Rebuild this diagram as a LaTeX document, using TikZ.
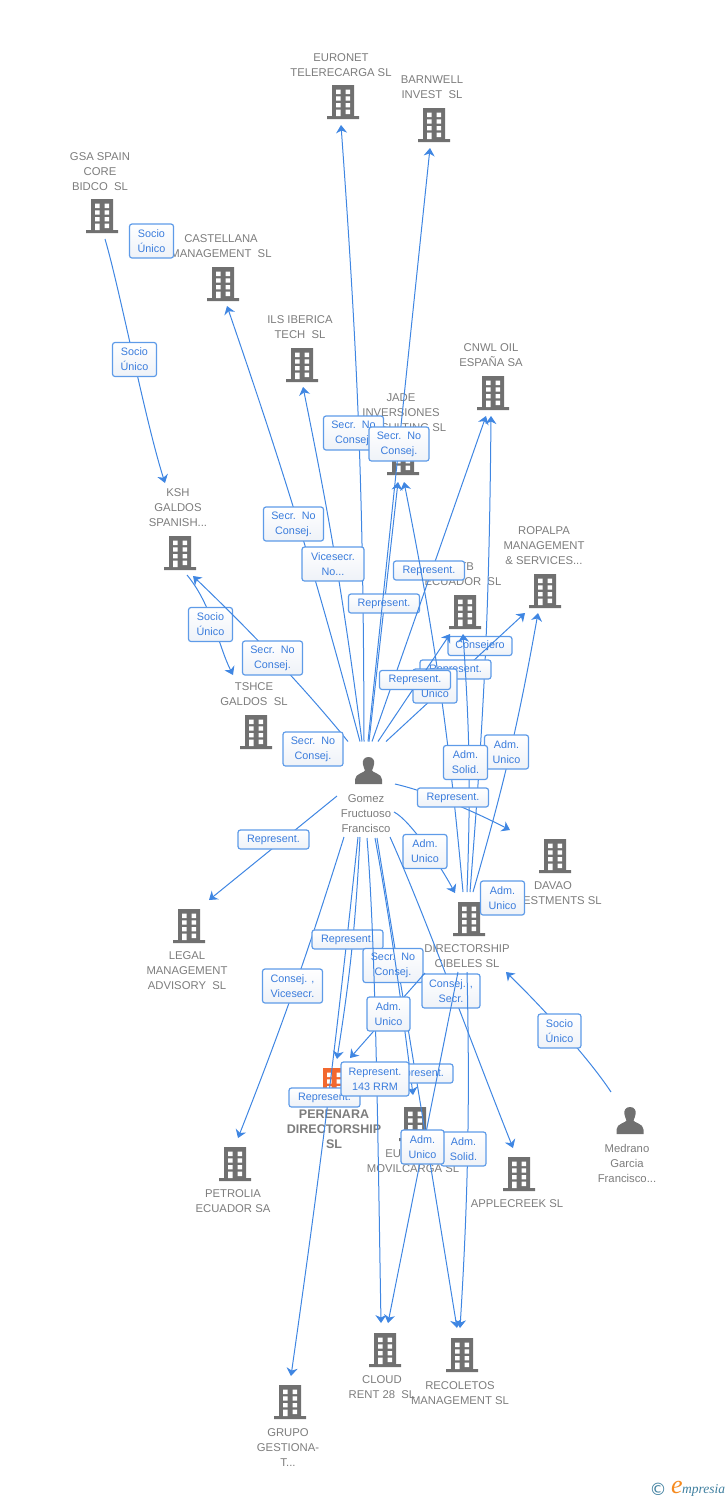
\documentclass[tikz,border=0pt]{standalone}
\usepackage{fontspec}
\setmainfont{Liberation Sans}
\newfontfamily\serifit{Liberation Serif}
\newfontfamily\dejavu{DejaVu Sans}
\usetikzlibrary{arrows.meta,calc}
\definecolor{linkblue}{HTML}{3F86E2}
\definecolor{tagborder}{HTML}{5E9BE8}
\definecolor{tagtext}{HTML}{3A7CDC}
\definecolor{tagshade}{HTML}{EEF2F8}
\definecolor{nametext}{HTML}{7C7C7C}
\definecolor{icongray}{HTML}{707070}
\definecolor{iconorange}{HTML}{F2682F}
\definecolor{logoteal}{HTML}{3F7F9F}
\definecolor{logoorange}{HTML}{F58A1F}
\tikzset{
  link/.style={draw=linkblue,line width=1pt,-{Stealth[length=8pt,width=11pt,inset=2.5pt]}},
  tagbox/.style={draw=tagborder,line width=1.2pt,rounded corners=2.5pt,top color=white,bottom color=tagshade,
    text=tagtext,align=center,inner sep=0pt,font=\fontsize{10.8}{15}\selectfont},
  tagone/.style={tagbox,minimum width=#1,minimum height=19pt},
  tagtwo/.style={tagbox,minimum width=#1,minimum height=34pt},
  entname/.style={text=nametext,align=center,inner sep=0pt,yshift=-0.8pt,font=\fontsize{11.3}{15}\selectfont},
  focusname/.style={text=nametext,align=center,inner sep=0pt,font=\fontsize{12.5}{15}\selectfont\bfseries},
  iconbox/.style={inner sep=0pt,minimum size=34pt}
}
\newcommand{\bld}[4][icongray]{%
  \node[iconbox] (#2) at (#3,#4) {};
  \begin{scope}[shift={(#2.center)}]
    \fill[#1] (-11,-17) rectangle (11,14) (-16,14) rectangle (16,17);
    \fill[white] (-7,-12.3) rectangle (-2.5,-8) (2.5,-12.3) rectangle (7,-8)
      (-7,-5.7) rectangle (-2.5,-1.3) (2.5,-5.7) rectangle (7,-1.3)
      (-7,1) rectangle (-2.5,5.3) (2.5,1) rectangle (7,5.3)
      (-7,7.7) rectangle (-2.5,14) (2.5,7.7) rectangle (7,12);
  \end{scope}}
\newcommand{\prs}[3]{%
  \node[iconbox] (#1) at (#2,#3) {};
  \begin{scope}[shift={(#1.center)}]
    \fill[icongray] (0,-13.5) .. controls (-4.5,-13.5) and (-6,-10) .. (-5.7,-7)
      .. controls (-5.5,-4) and (-4,-2) .. (-3.5,0) .. controls (-3.5,2) and (-13.5,3) .. (-13.5,9)
      -- (-13.5,13.5) -- (13.5,13.5) -- (13.5,9) .. controls (13.5,3) and (3.5,2) .. (3.5,0)
      .. controls (4,-2) and (5.5,-4) .. (5.7,-7) .. controls (6,-10) and (4.5,-13.5) .. (0,-13.5) -- cycle;
  \end{scope}}
\begin{document}
\begin{tikzpicture}[x=1pt,y=-1pt]
\useasboundingbox (0,0) rectangle (728,1500);
% entities
\bld{euronet}{343}{102}
\bld{barnwell}{434}{125}
\bld{gsa}{102}{216}
\bld{castellana}{223}{284}
\bld{ils}{302}{365}
\bld{cnwl}{493}{393}
\bld{jade}{403}{458}
\bld{ropalpa}{545}{591}
\bld{xtb}{465}{612}
\bld{ksh}{180}{553}
\bld{tshce}{256}{732}
\bld{davao}{555}{856}
\bld{cibeles}{469}{919}
\bld{legal}{189}{926}
\bld{petrolia}{235}{1164}
\bld[iconorange]{perenara}{334}{1085}
\bld{movilcarga}{415}{1124}
\bld{applecreek}{519}{1174}
\bld{cloud}{385}{1350}
\bld{recoletos}{462}{1355}
\bld{grupo}{290}{1402}
\prs{gomez}{368.5}{770.5}
\prs{medrano}{630}{1120.5}
\node[entname] (euronetN) at (341,64.5) {EURONET\\TELERECARGA SL};
\node[entname] (barnwellN) at (432,86.5) {BARNWELL\\INVEST\ \ SL};
\node[entname] (gsaN) at (100,171) {GSA SPAIN\\CORE\\BIDCO\ \ SL};
\node[entname] (castellanaN) at (221,245.5) {CASTELLANA\\MANAGEMENT\ \ SL};
\node[entname] (ilsN) at (300,326.5) {ILS IBERICA\\TECH\ \ SL};
\node[entname] (cnwlN) at (491,354.5) {CNWL OIL\\ESPAÑA SA};
\node[entname] (jadeN) at (401,412) {JADE\\INVERSIONES\\CONSULTING SL};
\node[entname] (ropalpaN) at (544,545) {ROPALPA\\MANAGEMENT\\\& SERVICES...};
\node[entname] (xtbN) at (463,573.5) {XTB\\ECUADOR\ \ SL};
\node[entname] (kshN) at (178,507) {KSH\\GALDOS\\SPANISH...};
\node[entname] (tshceN) at (254,693.5) {TSHCE\\GALDOS\ \ SL};
\node[entname] (gomezN) at (366,813) {Gomez\\Fructuoso\\Francisco};
\node[entname] (davaoN) at (553,892.5) {DAVAO\\INVESTMENTS SL};
\node[entname] (cibelesN) at (467,955.5) {DIRECTORSHIP\\CIBELES SL};
\node[entname] (legalN) at (187,970) {LEGAL\\MANAGEMENT\\ADVISORY\ \ SL};
\node[entname] (petroliaN) at (233,1200.5) {PETROLIA\\ECUADOR SA};
\node[focusname] (perenaraN) at (334,1129) {PERENARA\\DIRECTORSHIP\\SL};
\node[entname] (movilcargaN) at (413,1160.5) {EURONET\\MOVILCARGA SL};
\node[entname] (applecreekN) at (517,1203) {APPLECREEK SL};
\node[entname] (medranoN) at (627,1163) {Medrano\\Garcia\\Francisco...};
\node[entname] (cloudN) at (382,1386.5) {CLOUD\\RENT 28\ \ SL};
\node[entname] (recoletosN) at (460,1392.5) {RECOLETOS\\MANAGEMENT SL};
\node[entname] (grupoN) at (288,1447) {GRUPO\\GESTIONA-\\T...};
% connectors and their tags, in stacking order
\draw[link] ($(gsa)+(3,23)$) .. controls (120,290) and (145,420) .. ($(ksh)+(-15,-70)$);
\node[tagtwo=44pt] (t1) at (151.5,241) {Socio\\Único};
\node[tagtwo=44pt] (t2) at (134.5,359.5) {Socio\\Único};
\draw[link] ($(ksh)+(7,22)$) .. controls (212,605) and (218,645) .. ($(tshce)+(-23,-57)$);
\node[tagtwo=44pt] (t3) at (210.5,624.5) {Socio\\Único};
\draw[link] ($(gomez)+(-4.5,-29)$) to[bend right=2] ($(euronet)+(-2,23)$);
\node[tagtwo=60pt] (t4) at (353.5,433) {Secr.\ \ No\\Consej.};
\draw[link] ($(gomez)+(-8.5,-29)$) to[bend right=2] ($(castellana)+(4,22)$);
\node[tagtwo=60pt] (t5) at (293.5,524) {Secr.\ \ No\\Consej.};
\draw[link] ($(gomez)+(-6.5,-29)$) to[bend right=2] ($(ils)+(1,22)$);
\node[tagtwo=62pt] (t6) at (333,564) {Vicesecr.\\No...};
\draw[link] ($(gomez)+(-20.5,-29)$) .. controls (298,680) and (243,624) .. ($(ksh)+(13,23)$);
\node[tagtwo=60pt] (t7) at (272.5,658) {Secr.\ \ No\\Consej.};
\node[tagtwo=60pt] (t8) at (313,749) {Secr.\ \ No\\Consej.};
\draw[link] ($(gomez)+(0.5,-29)$) -- ($(jade)+(-5,24)$);
\node[tagone=71pt] (t9) at (384,603.5) {Represent.};
\draw[link] ($(gomez)+(-0.5,-29)$) -- ($(barnwell)+(-4,23)$);
\node[tagtwo=60pt] (t10) at (399,444) {Secr.\ \ No\\Consej.};
\draw[link] ($(gomez)+(3.5,-29)$) -- ($(cnwl)+(-7,23)$);
\node[tagone=71pt] (t11) at (429,570.5) {Represent.};
\draw[link] ($(cibeles)+(1,-27)$) to[bend right=2] ($(cnwl)+(-2,23)$);
\node[tagone=64pt] (t12) at (480,646) {Consejero};
\draw[link] ($(gomez)+(17.5,-29)$) -- ($(ropalpa)+(-20,22)$);
\node[tagone=71pt] (t13) at (455.5,669.5) {Represent.};
\draw[link] ($(cibeles)+(-6,-27)$) to[bend right=3] ($(jade)+(1,24)$);
\node[tagtwo=44pt] (t14) at (435,686) {Adm.\\Unico};
\draw[link] ($(gomez)+(9.5,-29)$) -- ($(xtb)+(-15,22)$);
\node[tagone=71pt] (t15) at (415,680) {Represent.};
\draw[link] ($(cibeles)+(4,-27)$) to[bend right=3] ($(ropalpa)+(-7,22)$);
\node[tagtwo=44pt] (t16) at (506.5,752) {Adm.\\Unico};
\draw[link] ($(cibeles)+(-2,-27)$) to[bend right=3] ($(xtb)+(-2,22)$);
\node[tagtwo=44pt] (t17) at (465.5,762.5) {Adm.\\Solid.};
\draw[link] ($(gomez)+(26.5,13.5)$) .. controls (430,792) and (475,812) .. ($(davao)+(-45,-26)$);
\node[tagone=71pt] (t18) at (453,797.5) {Represent.};
\draw[link] ($(gomez)+(25.5,41.5)$) .. controls (410,820) and (440,865) .. ($(cibeles)+(-14,-26)$);
\node[tagtwo=44pt] (t19) at (425,851.5) {Adm.\\Unico};
\node[tagtwo=44pt] (t20) at (502.5,898) {Adm.\\Unico};
\draw[link] ($(gomez)+(-31.5,25.5)$) -- ($(legal)+(20,-26)$);
\node[tagone=71pt] (t21) at (273.5,839.5) {Represent.};
\draw[link] ($(gomez)+(-24.5,66.5)$) to[bend left=2] ($(petrolia)+(3,-26)$);
\node[tagtwo=60pt] (t22) at (292.5,986) {Consej. ,\\Vicesecr.};
\draw[link] ($(gomez)+(-10.5,66.5)$) to[bend left=1] ($(grupo)+(1,-26)$);
\node[tagone=71pt] (t23) at (324.5,1097.5) {Represent.};
\draw[link] ($(gomez)+(-8.5,66.5)$) to[bend left=3] ($(perenara)+(3,-26)$);
\node[tagone=71pt] (t24) at (347.5,939.5) {Represent.};
\draw[link] ($(gomez)+(8.5,67.5)$) .. controls (395,950) and (420,1100) .. ($(recoletos)+(-5,-27)$);
\node[tagtwo=60pt] (t25) at (393,965.5) {Secr.\ \ No\\Consej.};
\draw[link] ($(gomez)+(21.5,66.5)$) .. controls (425,915) and (470,1040) .. ($(applecreek)+(-6,-26)$);
\node[tagtwo=58pt] (t26) at (451,991) {Consej. ,\\Secr.};
\draw[link] ($(gomez)+(6.5,67.5)$) .. controls (392,930) and (405,1030) .. ($(movilcarga)+(-2,-29)$);
\node[tagone=71pt] (t27) at (417.5,1073.5) {Represent.};
\draw[link] ($(gomez)+(-1.5,67.5)$) .. controls (376,950) and (378,1150) .. ($(cloud)+(-4,-27)$);
\node[tagtwo=68pt] (t28) at (375,1079) {Represent.\\143 RRM};
\draw[link] ($(cibeles)+(-44,54)$) -- ($(perenara)+(16,-27)$);
\node[tagtwo=43pt] (t29) at (388.5,1014) {Adm.\\Unico};
\draw[link] ($(cibeles)+(-2,53)$) .. controls (470,1100) and (468,1200) .. ($(recoletos)+(-2,-27)$);
\node[tagtwo=45pt] (t30) at (463.5,1149) {Adm.\\Solid.};
\draw[link] ($(cibeles)+(-11,53)$) -- ($(cloud)+(3,-27)$);
\node[tagtwo=43pt] (t31) at (422.5,1147) {Adm.\\Unico};
\draw[link] ($(medrano)+(-19,-28.5)$) .. controls (590,1060) and (545,1010) .. ($(cibeles)+(37,53)$);
\node[tagtwo=43pt] (t32) at (559.5,1031) {Socio\\Único};
% logo
\node[text=logoteal,inner sep=0pt,font=\dejavu\fontsize{17}{17}\selectfont] (copy) at (658,1489) {©};
\node[text=logoorange,inner sep=0pt,font=\serifit\itshape\fontsize{26}{26}\selectfont] (logoe) at (677,1487.5) {e};
\node[text=logoteal,inner sep=0pt,anchor=west,font=\serifit\itshape\fontsize{13.5}{14}\selectfont] (logow) at (682,1490) {mpresia};
\end{tikzpicture}
\end{document}
